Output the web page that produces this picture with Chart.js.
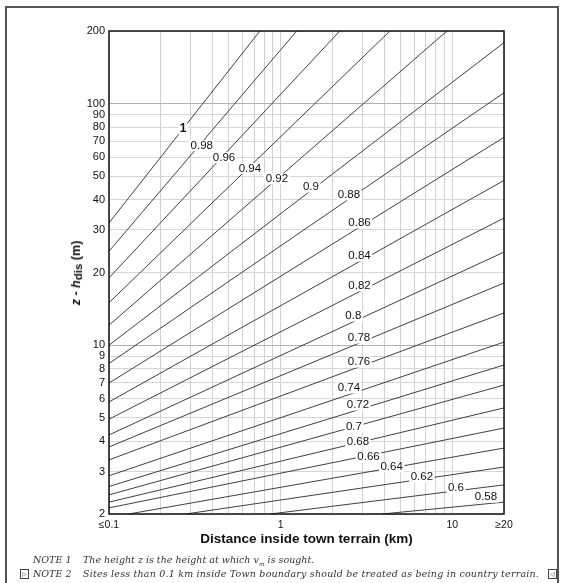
<!DOCTYPE html>
<html><head><meta charset="utf-8">
<script src="https://cdn.jsdelivr.net/npm/chart.js@4/dist/chart.umd.min.js"></script>
<style>
html,body{margin:0;padding:0;background:#fff;}
#wrap{position:relative;width:561px;height:583px;overflow:hidden;background:#fff;}
#frame{position:absolute;left:5px;top:6px;width:550px;height:600px;border:2px solid #555;border-bottom:none;}
#c{position:absolute;left:0;top:0;}
#ytitle{position:absolute;left:76px;top:273px;transform:translate(-50%,-50%) rotate(-90deg);font:bold 12.5px "Liberation Sans",Arial,sans-serif;white-space:nowrap;color:#111;}
#ytitle sub{font-size:11.5px;vertical-align:-2px;line-height:0;}
.note{position:absolute;font:italic 9.5px "DejaVu Serif",serif;color:#333;white-space:nowrap;line-height:12px;}
.note sub{font-size:6px;line-height:0;}
.ico{position:absolute;width:7px;height:8px;border:1px solid #444;font:6px "Liberation Sans",sans-serif;line-height:8px;text-align:center;color:#444;}
</style></head>
<body>
<div id="wrap">
<div id="frame"></div>
<canvas id="c" width="561" height="583"></canvas>
<div id="ytitle"><i>z</i> - <i>h</i><sub>dis</sub> (m)</div>
<div class="note" style="left:33px;top:554px;">NOTE 1</div>
<div class="note" style="left:83px;top:554px;">The height z is the height at which v<sub>m</sub> is sought.</div>
<div class="ico" style="left:20px;top:569px;">&#9655;</div>
<div class="note" style="left:33px;top:568px;">NOTE 2</div>
<div class="note" style="left:83px;top:568px;letter-spacing:0.2px;">Sites less than 0.1 km inside Town boundary should be treated as being in country terrain.</div>
<div class="ico" style="left:548px;top:569px;">&#9665;</div>
</div>
<script>
// ---- data ----
const contourLabels = ['1','0.98','0.96','0.94','0.92','0.9','0.88','0.86','0.84','0.82','0.8','0.78','0.76','0.74','0.72','0.7','0.68','0.66','0.64','0.62','0.6','0.58'];
const lineStartX = [0.1,0.1,0.1,0.1,0.1,0.1,0.1,0.1,0.1,0.1,0.1,0.1,0.1,0.1,0.1,0.1,0.1,0.1,0.13,0.28,0.87,3.9];
const lineStartZ = [32.1,24.5,19.0,15.0,12.1,10.0,8.4,6.97,5.82,4.94,4.25,3.79,3.35,2.88,2.6,2.4,2.24,2.12,2,2,2,2];
const lineEndX   = [0.757,1.24,2.21,4.33,9.3,20,20,20,20,20,20,20,20,20,20,20,20,20,20,20,20,20];
const lineEndZ   = [200,200,200,200,200,179,111,72.6,48.1,33.6,24.3,18.1,13.6,10.3,8.28,6.84,5.5,4.54,3.75,3.13,2.64,2.24];
const labelX = [0.27,0.347,0.468,0.662,0.95,1.5,2.5,2.88,2.88,2.88,2.65,2.86,2.86,2.5,2.82,2.67,2.82,3.25,4.43,6.65,10.5,15.7];
const labelZ = [78.6,67.1,59.9,53.9,48.8,45.2,41.9,32.1,23.4,17.6,13.2,10.7,8.51,6.65,5.65,4.58,3.97,3.44,3.13,2.85,2.56,2.35];
const xTickValues = [0.1,0.2,0.3,0.4,0.5,0.6,0.7,0.8,0.9,1,2,3,4,5,6,7,8,9,10,20];
const xTickText = {0.1:'\u22640.1', 1:'1', 10:'10', 20:'\u226520'};
const yTickValues = [2,3,4,5,6,7,8,9,10,20,30,40,50,60,70,80,90,100,200];

const datasets = contourLabels.map((lab,i)=>({
  label: lab,
  data: [{x:lineStartX[i], y:lineStartZ[i]}, {x:lineEndX[i], y:lineEndZ[i]}],
  showLine: true, borderColor:'#2a2a2a', borderWidth:0.9, pointRadius:0, fill:false, tension:0
}));

const frameAndLabels = {
  id:'frameAndLabels',
  afterDatasetsDraw(chart){
    const {ctx, chartArea:a, scales:{x,y}} = chart;
    ctx.save();
    ctx.textAlign='center'; ctx.textBaseline='middle';
    contourLabels.forEach((lab,i)=>{
      ctx.font = (lab==='1' ? 'bold 12px' : '11.5px') + ' "Liberation Sans", Arial, sans-serif';
      const px = x.getPixelForValue(labelX[i]), py = y.getPixelForValue(labelZ[i]);
      const w = ctx.measureText(lab).width;
      ctx.fillStyle='#fff';
      ctx.fillRect(px-w/2-1.5, py-5.5, w+3, 11);
      ctx.fillStyle='#111';
      ctx.fillText(lab, px, py);
    });
    ctx.strokeStyle='#111'; ctx.lineWidth=1.5;
    ctx.strokeRect(a.left, a.top, a.right-a.left, a.bottom-a.top);
    ctx.restore();
  }
};

new Chart(document.getElementById('c'), {
  type:'scatter',
  data:{datasets},
  options:{
    responsive:false, animation:false,
    layout:{padding:{left:0, top:31, right:57, bottom:36}},
    plugins:{legend:{display:false}, tooltip:{enabled:false}},
    scales:{
      x:{type:'logarithmic', min:0.1, max:20,
        afterBuildTicks(s){ s.ticks = xTickValues.map(v=>({value:v})); },
        afterFit(s){ s.height = 33; },
        ticks:{autoSkip:false, maxRotation:0, padding:5, color:'#111',
          font:{family:'"Liberation Sans", Arial, sans-serif', size:10.5},
          callback:(v)=> xTickText[v] !== undefined ? xTickText[v] : ''},
        grid:{drawTicks:false, color:'#d2d2d2', lineWidth:1},
        border:{display:false},
        title:{display:true, text:'Distance inside town terrain (km)', color:'#111',
          font:{family:'"Liberation Sans", Arial, sans-serif', size:13.5, weight:'bold'}, padding:{top:0,bottom:0}}
      },
      y:{type:'logarithmic', min:2, max:200,
        afterBuildTicks(s){ s.ticks = yTickValues.map(v=>({value:v})); },
        afterFit(s){ s.width = 109; },
        ticks:{autoSkip:false, padding:4, color:'#111',
          font:{family:'"Liberation Sans", Arial, sans-serif', size:11},
          callback:(v)=> String(v)},
        grid:{drawTicks:false, color:(c)=> (c.tick && (c.tick.value===10 || c.tick.value===100)) ? '#b0b0b0' : '#d6d6d6', lineWidth:1},
        border:{display:false}
      }
    }
  },
  plugins:[frameAndLabels]
});
</script>
</body></html>
